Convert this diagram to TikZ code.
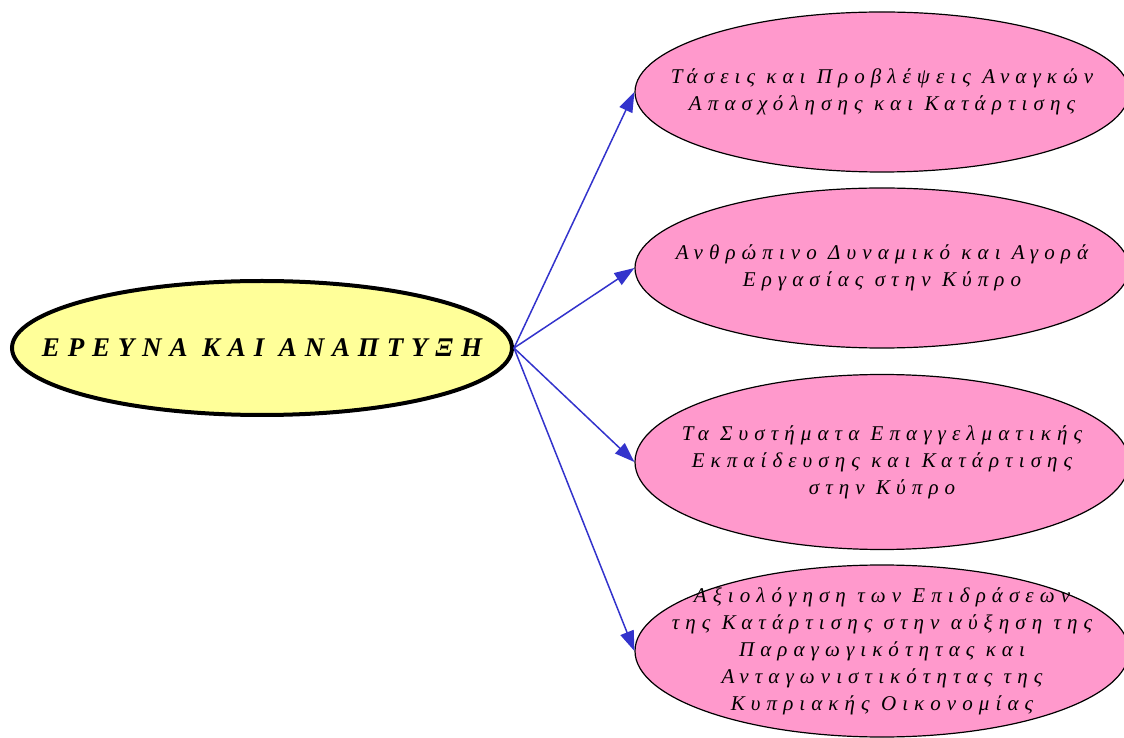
\documentclass[tikz,border=0pt]{standalone}
\usepackage{fontspec}
\setmainfont{Liberation Serif}
\newfontfamily\spaced[LetterSpace=29]{Liberation Serif}
\newfontfamily\wide[LetterSpace=29]{Liberation Serif}
\usetikzlibrary{shapes.geometric,arrows.meta,positioning}
\definecolor{rootyellow}{HTML}{FFFF99}
\definecolor{topicpink}{HTML}{FF99CC}
\definecolor{linkblue}{HTML}{3333CC}
\tikzset{
    research/.style={ellipse,draw,line width=4pt,fill=rootyellow,
        minimum width=500pt,minimum height=134pt,inner sep=0pt},
    topic/.style={ellipse,draw,line width=1.2pt,fill=topicpink,
        minimum width=494pt,minimum height=160pt,inner sep=0pt},
    topictext/.style={font=\spaced\itshape\fontsize{21}{27}\selectfont,align=center},
    link/.style={linkblue,line width=1.5pt,-{Triangle[length=20pt,width=14pt]}}
}

\begin{document}
\begin{tikzpicture}[x=1pt,y=1pt]
\useasboundingbox (0,0) rectangle (1124,737);

\node[research,label={[font=\wide\bfseries\itshape\fontsize{27}{30}\selectfont]center:ΕΡΕΥΝΑ ΚΑΙ ΑΝΑΠΤΥΞΗ}] (root) at (262,389) {};

\node[topic,label={[topictext]center:Τάσεις και Προβλέψεις Αναγκών\\Απασχόλησης και Κατάρτισης}] (trends) at (882,645) {};
\node[topic,label={[topictext]center:Ανθρώπινο Δυναμικό και Αγορά\\Εργασίας στην Κύπρο}] (labour) at (882,469) {};
\node[topic,minimum height=175pt,label={[topictext]center:Τα Συστήματα Επαγγελματικής\\Εκπαίδευσης και Κατάρτισης\\στην Κύπρο}] (systems) at (882,275) {};
\node[topic,minimum height=172pt,label={[topictext]center:Αξιολόγηση των Επιδράσεων\\της Κατάρτισης στην αύξηση της\\Παραγωγικότητας και\\Ανταγωνιστικότητας της\\Κυπριακής Οικονομίας}] (impact) at (882,86) {};

\draw[link] (root.east) -- (trends.west);
\draw[link] (root.east) -- (labour.west);
\draw[link] (root.east) -- (systems.west);
\draw[link] (root.east) -- (impact.west);
\end{tikzpicture}
\end{document}
